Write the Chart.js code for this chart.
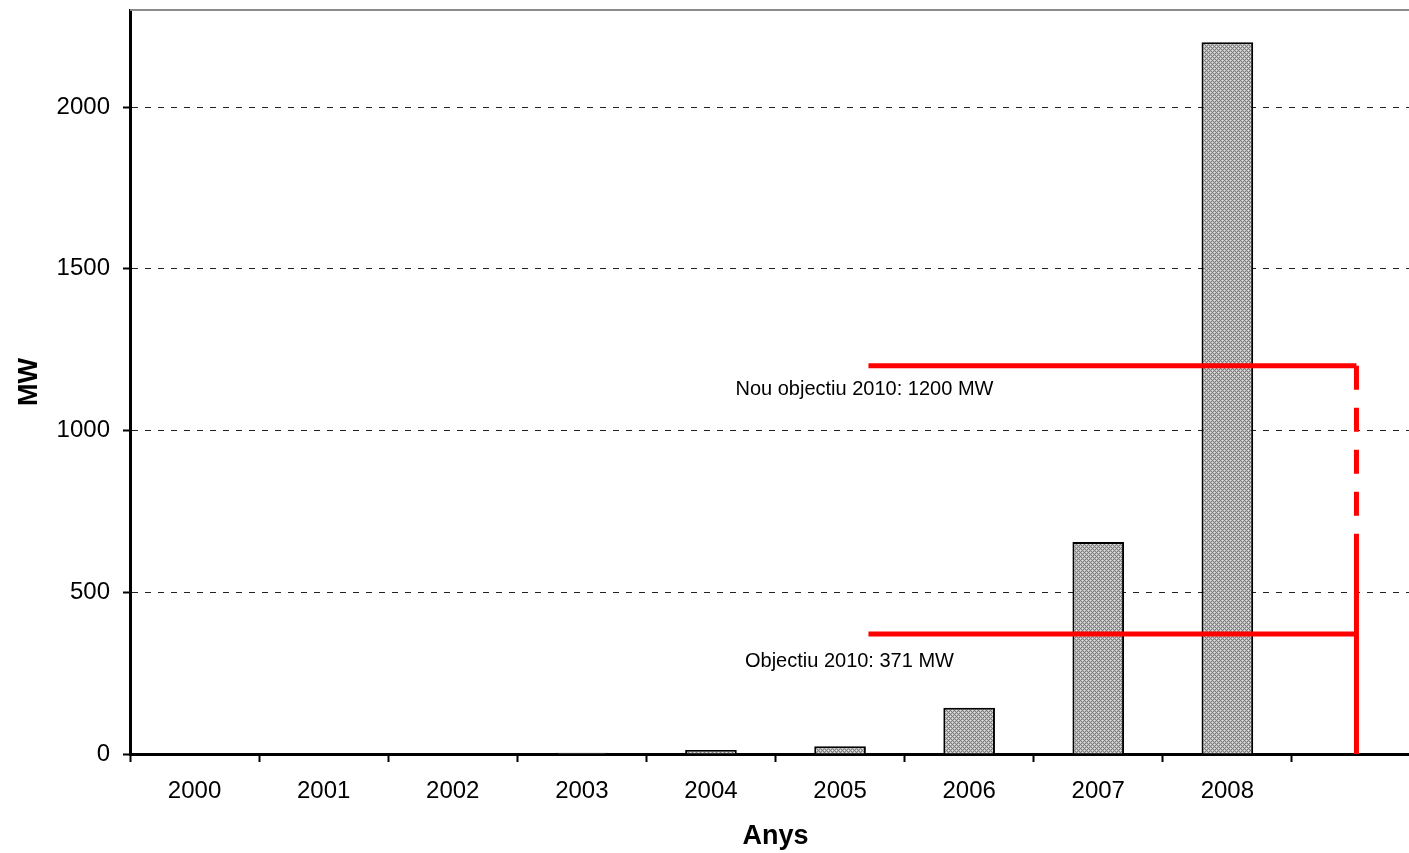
<!DOCTYPE html>
<html>
<head>
<meta charset="utf-8">
<title>Potència eòlica instal·lada</title>
<script src="https://cdn.jsdelivr.net/npm/chart.js@4.4.1/dist/chart.umd.min.js"></script>
<style>
  html, body { margin: 0; padding: 0; background: #fff; overflow: hidden; }
  #wrap { width: 1409px; height: 853px; overflow: hidden; }
</style>
</head>
<body>
<div id="wrap"><canvas id="c" width="1424" height="853"></canvas></div>
<script>
// Installed capacity per year (MW); the last, unlabeled slot holds the 2010 target marker
const years = ['2000', '2001', '2002', '2003', '2004', '2005', '2006', '2007', '2008', ''];
const capacityMW = [0, 1, 2, 4, 12, 24, 143, 655, 2200, null];
const yTickValues = [0, 500, 1000, 1500, 2000];
const yMax = 2300;

// 2010 targets (MW) and their labels
const targetOriginalMW = 371;
const targetNewMW = 1200;
const targetOriginalLabel = 'Objectiu 2010: 371 MW';
const targetNewLabel = 'Nou objectiu 2010: 1200 MW';
// Target lines run from this category position to the centre of the last slot
const targetFromIndex = 5.22;
const targetToIndex = 9;
// Below this value the vertical target line turns solid
const solidBelowMW = 640;

const FONT = "'Liberation Sans', Arial, Helvetica, sans-serif";

// Grey cross-hatch fill for the bars
function makeHatch() {
  const t = document.createElement('canvas');
  t.width = 4; t.height = 4;
  const g = t.getContext('2d');
  g.fillStyle = '#bcbcbc';
  g.fillRect(0, 0, 4, 4);
  g.fillStyle = '#7c7c7c';
  for (let x = 0; x < 4; x++) {
    for (let y = 0; y < 4; y++) {
      if ((x + y) % 4 === 0 || (x - y + 4) % 4 === 0) g.fillRect(x, y, 1, 1);
    }
  }
  g.fillStyle = '#e4e4e4';
  g.fillRect(0, 2, 1, 1);
  g.fillRect(2, 0, 1, 1);
  return g.createPattern(t, 'repeat');
}

const ctx = document.getElementById('c').getContext('2d');

// Thin grey frame line along the top of the plot area
const topFrame = {
  id: 'topFrame',
  beforeDatasetsDraw(chart) {
    const { ctx, chartArea } = chart;
    ctx.save();
    ctx.strokeStyle = '#8c8c8c';
    ctx.lineWidth = 2;
    ctx.beginPath();
    ctx.moveTo(chartArea.left, chartArea.top);
    ctx.lineTo(chartArea.right, chartArea.top);
    ctx.stroke();
    ctx.restore();
  }
};

// Captions under the two target lines
const targetCaptions = {
  id: 'targetCaptions',
  afterDatasetsDraw(chart) {
    const { ctx } = chart;
    const xs = chart.scales.x;
    const ys = chart.scales.y;
    const x0 = xs.getPixelForValue(targetFromIndex);
    ctx.save();
    ctx.fillStyle = '#000';
    ctx.font = '20px ' + FONT;
    ctx.textAlign = 'center';
    ctx.textBaseline = 'middle';
    ctx.fillText(targetNewLabel, x0 - 4, ys.getPixelForValue(targetNewMW) + 24);
    ctx.fillText(targetOriginalLabel, x0 - 19, ys.getPixelForValue(targetOriginalMW) + 27);
    ctx.restore();
  }
};

// Red target lines share the category axis; x is a (fractional) category position
function redLine(label, points, dash) {
  return {
    type: 'line',
    label: label,
    parsing: false,
    data: points,
    borderColor: '#ff0000',
    borderWidth: 5,
    borderDash: dash || [],
    borderCapStyle: 'butt',
    borderJoinStyle: 'miter',
    pointRadius: 0,
    pointHoverRadius: 0,
    tension: 0,
    fill: false,
    order: 0
  };
}

new Chart(ctx, {
  type: 'bar',
  data: {
    labels: years,
    datasets: [
      {
        label: 'MW',
        data: capacityMW,
        backgroundColor: makeHatch(),
        borderColor: '#000',
        borderWidth: 2,
        barPercentage: 0.4,
        categoryPercentage: 1,
        grouped: false,
        order: 1
      },
      redLine(targetOriginalLabel, [
        { x: targetFromIndex, y: targetOriginalMW },
        { x: targetToIndex, y: targetOriginalMW }
      ]),
      redLine(targetNewLabel, [
        { x: targetFromIndex, y: targetNewMW },
        { x: targetToIndex, y: targetNewMW }
      ]),
      redLine(targetNewLabel, [
        { x: targetToIndex, y: targetNewMW },
        { x: targetToIndex, y: solidBelowMW }
      ], [24, 18]),
      redLine(targetNewLabel, [
        { x: targetToIndex, y: solidBelowMW },
        { x: targetToIndex, y: 0 }
      ])
    ]
  },
  options: {
    responsive: false,
    animation: false,
    devicePixelRatio: 1,
    layout: { padding: { top: 10, right: 3, bottom: 0, left: 0 } },
    plugins: {
      legend: { display: false },
      tooltip: { enabled: false }
    },
    scales: {
      x: {
        type: 'category',
        offset: true,
        grid: {
          offset: true,
          drawOnChartArea: false,
          drawTicks: true,
          tickLength: 8,
          tickWidth: 2,
          tickColor: '#000'
        },
        border: { display: true, color: '#000', width: 3 },
        ticks: {
          color: '#000',
          font: { family: FONT, size: 24 },
          padding: 15,
          maxRotation: 0,
          autoSkip: false
        },
        title: {
          display: true,
          text: 'Anys',
          color: '#000',
          font: { family: FONT, size: 27, weight: 'bold' },
          padding: { top: 0, bottom: 0 }
        },
        afterFit(scale) {
          scale.height = 99;
          scale.paddingLeft = 0;
          scale.paddingRight = 0;
        }
      },
      y: {
        type: 'linear',
        min: 0,
        max: yMax,
        afterBuildTicks(scale) {
          scale.ticks = yTickValues.map(v => ({ value: v }));
        },
        grid: {
          color: c => (c.tick && c.tick.value === 0 ? 'rgba(0,0,0,0)' : '#222'),
          lineWidth: 1,
          drawTicks: true,
          tickLength: 7,
          tickWidth: 2,
          tickColor: '#000'
        },
        border: { display: true, color: '#000', width: 3, dash: [6, 7] },
        ticks: {
          color: '#000',
          font: { family: FONT, size: 24 },
          padding: 13,
          callback: v => String(v)
        },
        title: {
          display: true,
          text: 'MW',
          color: '#000',
          font: { family: FONT, size: 27, weight: 'bold' },
          padding: { top: 13, bottom: 0 }
        },
        afterFit(scale) {
          scale.width = 130;
          scale.paddingTop = 0;
          scale.paddingBottom = 0;
        }
      }
    }
  },
  plugins: [topFrame, targetCaptions]
});
</script>
</body>
</html>
